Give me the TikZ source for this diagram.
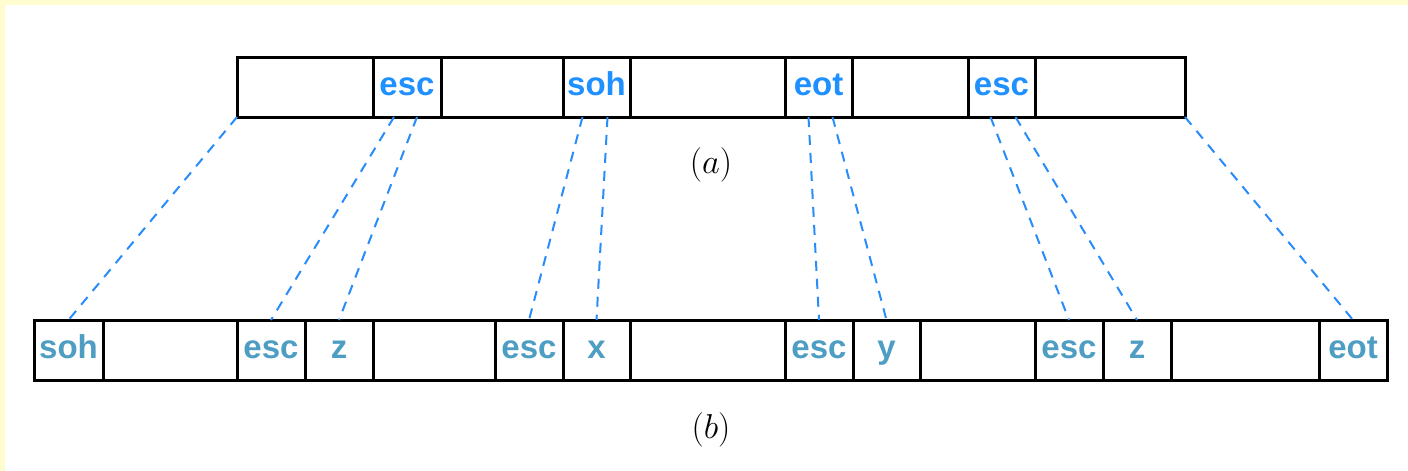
\documentclass[tikz,border=0pt]{standalone}
\usepackage{fontspec}
\setmainfont{Liberation Sans}
\usetikzlibrary{positioning}

\definecolor{frameyellow}{RGB}{255,253,208}
\definecolor{topblue}{RGB}{30,144,255}
\definecolor{lowblue}{RGB}{78,158,196}
\definecolor{linkblue}{RGB}{40,140,250}

\tikzset{
    cell/.style={draw=black, line width=1.5pt, rectangle, anchor=north west,
        inner sep=0pt, outer sep=0pt, minimum height=30pt,
        text height=8.5pt, text depth=0pt,
        font=\fontsize{16.5}{18}\selectfont\bfseries},
    topcell/.style={cell, text=topblue},
    lowcell/.style={cell, text=lowblue},
    link/.style={draw=linkblue, line width=1pt, dash pattern=on 5pt off 4pt},
    caption/.style={font=\fontsize{17}{20}\selectfont}
}

\begin{document}
\begin{tikzpicture}[x=0.5pt,y=-0.5pt]
\useasboundingbox (0,0) rectangle (1408,471);
\fill[white] (0,0) rectangle (1408,471);
\fill[frameyellow] (0,0) rectangle (1408,5);
\fill[frameyellow] (0,0) rectangle (5,471);

% (a) frame
\foreach \name/\xx/\ww/\txt in {t1/237/136/, t2/373/68/esc, t3/441/122/,
        t4/563/67/soh, t5/630/155/, t6/785/67/eot, t7/852/116/,
        t8/968/67/esc, t9/1035/150/}
    \node[topcell, minimum width=\ww*0.5pt] (\name) at (\xx,57) {\txt};

% (b) stuffed frame
\foreach \name/\xx/\ww/\txt in {b1/34/69/soh, b2/103/134/, b3/237/68/esc,
        b4/305/68/z, b5/373/122/, b6/495/68/esc, b7/563/67/x,
        b8/630/155/, b9/785/68/esc, b10/853/67/y, b11/920/115/,
        b12/1035/68/esc, b13/1103/68/z, b14/1171/148/, b15/1319/68/eot}
    \node[lowcell, minimum width=\ww*0.5pt] (\name) at (\xx,320) {\txt};

% where the bytes go
\draw[link] (t1.south west) -- (b1.north);
\draw[link] ([xshift=-6.5pt]t2.south) -- (b3.north);
\draw[link] ([xshift=5pt]t2.south) -- (b4.north);
\draw[link] ([xshift=-7pt]t4.south) -- (b6.north);
\draw[link] ([xshift=5.5pt]t4.south) -- (b7.north);
\draw[link] ([xshift=-5pt]t6.south) -- (b9.north);
\draw[link] ([xshift=7pt]t6.south) -- (b10.north);
\draw[link] ([xshift=-5.5pt]t8.south) -- (b12.north);
\draw[link] ([xshift=7pt]t8.south) -- (b13.north);
\draw[link] (t9.south east) -- (b15.north);

\node[caption] (capa) at (711,165) {$(a)$};
\node[caption] (capb) at (711,430) {$(b)$};
\end{tikzpicture}
\end{document}
